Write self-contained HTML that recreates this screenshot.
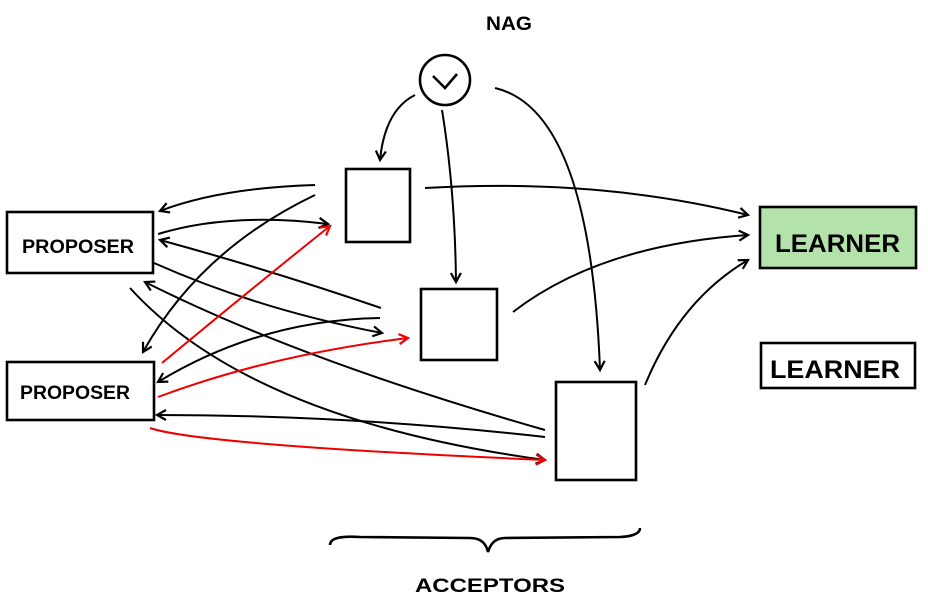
<!DOCTYPE html><html><head><style>body{margin:0;background:#fff}svg{display:block}text{font-family:"Liberation Sans",sans-serif;font-weight:bold}</style></head><body>
<svg width="928" height="601" viewBox="0 0 928 601">
<defs>
<marker id="a" markerWidth="12" markerHeight="12" refX="10" refY="6" orient="auto" markerUnits="userSpaceOnUse"><path d="M1,1 L10,6 L1,11" fill="none" stroke="#000" stroke-width="2.2"/></marker>
<marker id="r" markerWidth="12" markerHeight="12" refX="10" refY="6" orient="auto" markerUnits="userSpaceOnUse"><path d="M1,1 L10,6 L1,11" fill="none" stroke="#e00" stroke-width="2.2"/></marker>
</defs>
<g fill="none" stroke="#000" stroke-width="2.6">
<rect x="7" y="212" width="146" height="61"/>
<rect x="7" y="362" width="147" height="58"/>
<rect x="346" y="169" width="64" height="73"/>
<rect x="421" y="289" width="76" height="71"/>
<rect x="556" y="382" width="80" height="98"/>
<rect x="760" y="207" width="156" height="61" fill="#b3e2ab"/>
<rect x="761" y="343" width="154" height="45"/>
<circle cx="445" cy="80" r="25"/>
<path d="M433,76 L445,88 L457,74"/>
<path d="M330,545 Q330,535 360,537 L470,538 Q485,538 488,552 Q492,538 505,538 L620,537 Q640,536 640,528"/>
</g>
<g fill="none" stroke="#000" stroke-width="2" marker-end="url(#a)">
<path d="M315,185 Q220,188 160,211"/>
<path d="M158,234 Q230,212 328,224"/>
<path d="M381,308 Q270,270 160,240"/>
<path d="M154,263 Q260,310 382,333"/>
<path d="M315,195 Q200,250 143,352"/>
<path d="M545,430 Q300,360 145,282"/>
<path d="M130,288 Q250,420 545,460"/>
<path d="M380,318 Q260,320 158,382"/>
<path d="M545,437 Q350,415 157,415"/>
<path d="M425,188 Q600,178 748,215"/>
<path d="M513,312 Q600,245 748,235"/>
<path d="M645,385 Q680,300 748,260"/>
<path d="M415,95 Q385,110 380,160"/>
<path d="M442,110 Q455,190 456,282"/>
<path d="M495,88 Q590,110 600,370"/>
</g>
<g fill="none" stroke="#e00" stroke-width="2" marker-end="url(#r)">
<path d="M162,363 Q250,290 330,226"/>
<path d="M158,397 Q270,355 408,338"/>
<path d="M150,428 Q200,445 545,460"/>
</g>
<g font-size="19" fill="#000">
<text x="22" y="253" textLength="112" lengthAdjust="spacingAndGlyphs">PROPOSER</text>
<text x="20" y="399" textLength="110" lengthAdjust="spacingAndGlyphs">PROPOSER</text>
<text x="775" y="252" font-size="25" textLength="125" lengthAdjust="spacingAndGlyphs">LEARNER</text>
<text x="770" y="378" font-size="25" textLength="130" lengthAdjust="spacingAndGlyphs">LEARNER</text>
<text x="486" y="30" textLength="46" lengthAdjust="spacingAndGlyphs">NAG</text>
<text x="415" y="592" textLength="150" lengthAdjust="spacingAndGlyphs">ACCEPTORS</text>
</g>
</svg></body></html>
